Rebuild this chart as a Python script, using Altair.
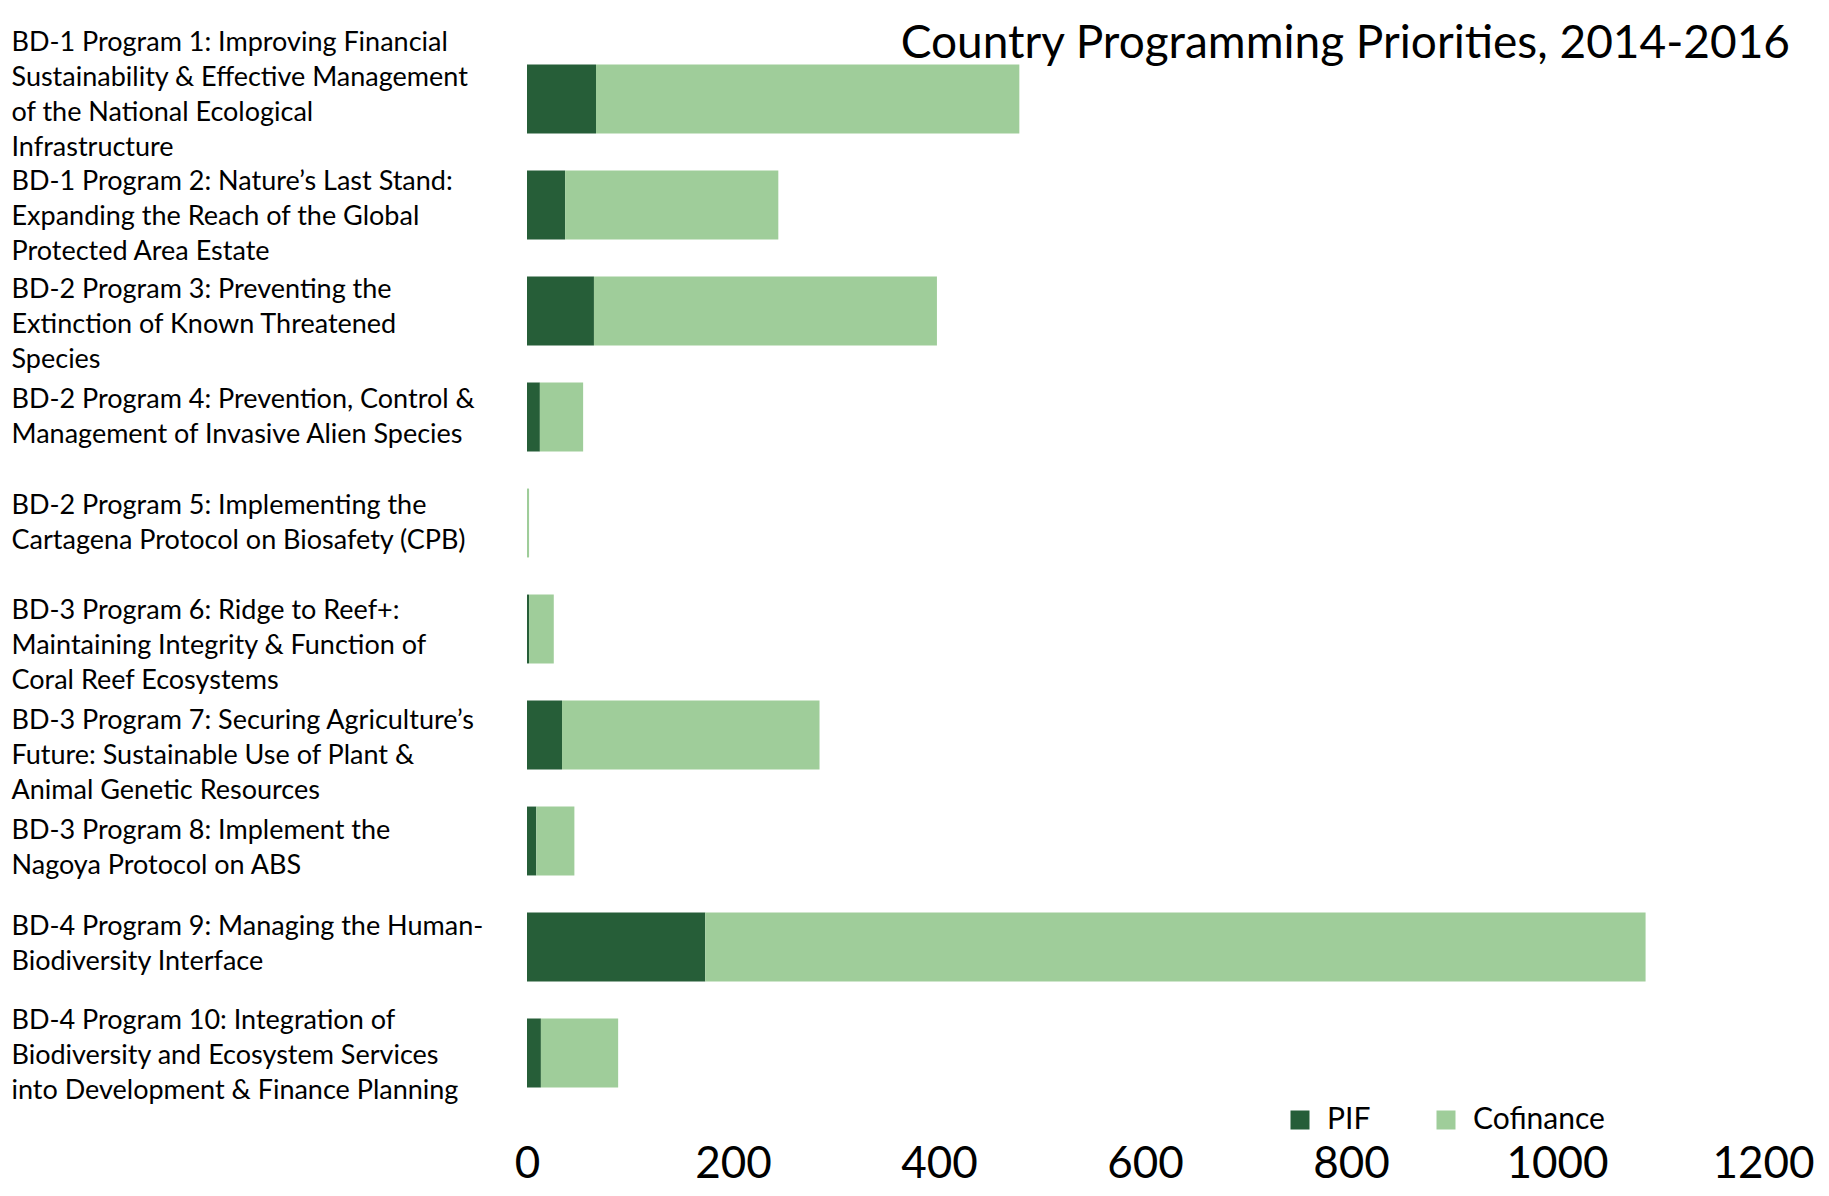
import json
import altair as alt
import pandas as pd

programs = [
    "BD-1 Program 1: Improving Financial|Sustainability & Effective Management|of the National Ecological|Infrastructure",
    "BD-1 Program 2: Nature\u2019s Last Stand:|Expanding the Reach of the Global|Protected Area Estate",
    "BD-2 Program 3: Preventing the|Extinction of Known Threatened|Species",
    "BD-2 Program 4: Prevention, Control &|Management of Invasive Alien Species",
    "BD-2 Program 5: Implementing the|Cartagena Protocol on Biosafety (CPB)",
    "BD-3 Program 6: Ridge to Reef+:|Maintaining Integrity & Function of|Coral Reef Ecosystems",
    "BD-3 Program 7: Securing Agriculture\u2019s|Future: Sustainable Use of Plant &|Animal Genetic Resources",
    "BD-3 Program 8: Implement the|Nagoya Protocol on ABS",
    "BD-4 Program 9: Managing the Human-|Biodiversity Interface",
    "BD-4 Program 10: Integration of|Biodiversity and Ecosystem Services|into Development & Finance Planning",
]
pif = [67, 37, 65, 12.5, 0, 2, 34, 9, 173, 13.5]
cofinance = [411, 207, 333, 42, 2, 24, 250, 37, 913, 75]
series = ["PIF", "Cofinance"]
colors = ["#265E38", "#9FCD9A"]
x_ticks = [0, 200, 400, 600, 800, 1000, 1200]
title_text = "Country Programming Priorities, 2014-2016"

# vertical nudges (px) of the label blocks relative to their bars, as in the reference
label_nudge = [-4, 12, 14, 0, 0, 17, 21, 7, -3, 3]
LINE_H = 35

rows = []
for i, p in enumerate(programs):
    rows.append({"program": p, "series": series[0], "value": pif[i], "order": 0})
    rows.append({"program": p, "series": series[1], "value": cofinance[i], "order": 1})
df = pd.DataFrame(rows)

# Vega puts the first line of a multi-line label at the anchor: centre the block
offset_conditions = [
    {"test": "datum.value == " + json.dumps(p), "value": n - p.count("|") * LINE_H / 2}
    for p, n in zip(programs, label_nudge)
]

bars = alt.Chart(df).mark_bar().encode(
    y=alt.Y(
        "program:N",
        sort=programs,
        scale=alt.Scale(paddingInner=0.35, paddingOuter=0.175),
        axis=alt.Axis(
            title=None,
            labelExpr="split(datum.value, '|')",
            labelAlign="left",
            labelBaseline="middle",
            labelPadding=516,
            labelOffset={"condition": offset_conditions, "value": 0},
            ticks=False,
            tickSize=0,
            domain=False,
            labelFont="Lato",
            labelFontSize=27,
            labelLineHeight=LINE_H,
            labelColor="black",
            labelLimit=600,
        ),
    ),
    x=alt.X(
        "value:Q",
        stack="zero",
        scale=alt.Scale(domain=[0, 1200], nice=False),
        axis=alt.Axis(
            title=None,
            values=x_ticks,
            grid=False,
            domain=False,
            ticks=False,
            tickSize=0,
            labelFont="Lato",
            labelFontSize=44,
            labelPadding=36,
            labelBaseline="top",
            labelColor="black",
            labelFlush=False,
            format="d",
        ),
    ),
    color=alt.Color(
        "series:N",
        sort=series,
        scale=alt.Scale(domain=series, range=colors),
        legend=alt.Legend(
            title=None,
            orient="none",
            legendX=758,
            legendY=1059,
            direction="horizontal",
            symbolType="square",
            symbolSize=361,
            symbolStrokeWidth=0,
            labelFont="Lato",
            labelFontSize=30,
            labelOffset=12,
            columnPadding=60,
            padding=0,
            labelColor="black",
        ),
    ),
    order=alt.Order("order:Q"),
)

title_df = pd.DataFrame({"t": [title_text]})
title = alt.Chart(title_df).mark_text(
    align="right", baseline="alphabetic", font="Lato", fontSize=46, color="black"
).encode(x=alt.value(1263), y=alt.value(12), text="t:N")

chart = alt.layer(bars, title).properties(
    width=1236,
    height=1060,
    padding={"left": 519, "right": 58, "top": 38, "bottom": 82},
    autosize=alt.AutoSizeParams(type="none"),
).configure_view(stroke=None)

chart.save("out.html", embed_options={"renderer": "svg", "actions": False})
